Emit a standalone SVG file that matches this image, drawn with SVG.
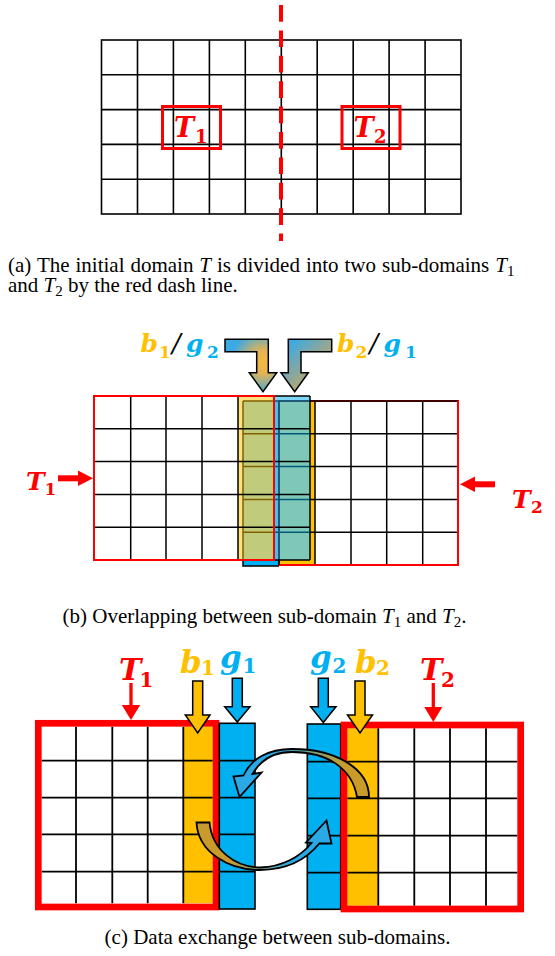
<svg xmlns="http://www.w3.org/2000/svg" width="555" height="956" viewBox="0 0 555 956">
<defs>
<style>
.g1{stroke:#000;stroke-width:1.6;fill:none}
.g2{stroke:#000;stroke-width:1.5;fill:none}
.g3{stroke:#000;stroke-width:1.8;fill:none}
.red{stroke:#FF0000;fill:none}
.lab{font-family:"DejaVu Serif","Liberation Serif",serif;font-weight:bold;font-style:italic}
.s{font-style:normal}
.sl{font-weight:normal;fill:#000}
.cap{font-family:"Liberation Serif","Times New Roman",serif;font-size:21px;fill:#000}
.mi{font-style:italic}
.or{fill:#FFC000}
.bl{fill:#00B0F0}
.rd{fill:#FF0000}
.arr{stroke:#000;stroke-width:1.5;stroke-linejoin:miter}
</style>
<radialGradient id="gL" gradientUnits="userSpaceOnUse" cx="263" cy="362" r="32">
<stop offset="0" stop-color="#F5B940"/>
<stop offset="0.35" stop-color="#E6B352"/>
<stop offset="1" stop-color="#3BA9E3"/>
</radialGradient>
<linearGradient id="gR" gradientUnits="userSpaceOnUse" x1="288" y1="345" x2="318" y2="375">
<stop offset="0" stop-color="#3BA9E3"/>
<stop offset="1" stop-color="#C0A66C"/>
</linearGradient>
<linearGradient id="cTop" gradientUnits="userSpaceOnUse" x1="345" y1="0" x2="278" y2="0">
<stop offset="0" stop-color="#C99B2A"/>
<stop offset="1" stop-color="#2AA9E6"/>
</linearGradient>
<linearGradient id="cBot" gradientUnits="userSpaceOnUse" x1="228" y1="0" x2="292" y2="0">
<stop offset="0" stop-color="#C99B2A"/>
<stop offset="1" stop-color="#2AA9E6"/>
</linearGradient>
</defs>

<!-- ===== (a) ===== -->
<g id="gridA">
<rect x="101.5" y="40" width="359.5" height="174" fill="#fff" class="g1"/>
<path class="g1" d="M137.5,40V214M173.4,40V214M209.4,40V214M245.3,40V214M281.3,40V214M317.2,40V214M353.2,40V214M389.1,40V214M425.1,40V214"/>
<path class="g1" d="M101.5,74.8H461M101.5,109.6H461M101.5,144.4H461M101.5,179.2H461"/>
</g>
<g id="dashA">
<line x1="281" y1="5" x2="281" y2="241" stroke="#FF0000" stroke-width="4" stroke-dasharray="16.7 8.7"/>
</g>
<g id="T1a">
<rect x="162.5" y="106.5" width="58" height="42" fill="#fff" class="red" stroke-width="3"/>
<text class="lab rd" x="174" y="136.5" font-size="27">T<tspan class="s" x="195" y="142.5" font-size="18">1</tspan></text>
</g>
<g id="T2a">
<rect x="342" y="106.5" width="58" height="42" fill="#fff" class="red" stroke-width="3"/>
<text class="lab rd" x="353.5" y="136.5" font-size="27">T<tspan class="s" x="374" y="142.5" font-size="18">2</tspan></text>
</g>
<g id="capA">
<text class="cap" x="8" y="271.5" word-spacing="0.7">(a) The initial domain <tspan class="mi">T</tspan> is divided into two sub-domains <tspan class="mi">T</tspan><tspan font-size="15" dy="4">1</tspan></text>
<text class="cap" x="8" y="291.5">and <tspan class="mi">T</tspan><tspan font-size="15" dy="4">2</tspan><tspan dy="-4"> by the red dash line.</tspan></text>
</g>

<!-- ===== (b) ===== -->
<g id="T2b">
<rect x="243" y="401" width="36" height="165" class="bl"/>
<rect x="279" y="401" width="36" height="164" class="or"/>
<rect x="243" y="401" width="67" height="159" fill="#fff" opacity="0.5"/>
<rect x="279" y="401" width="179" height="164" fill="none" stroke="#FF0000" stroke-width="2"/>
<path class="g2" d="M243,401V566H279M243,401H458"/>
<path class="g2" d="M279,401V565M315,401V565M351,401V565M386.7,401V565M422.7,401V565"/>
<path class="g2" d="M243,433.8H458M243,466.6H458M243,499.4H458M243,532.2H458"/>
<path d="M281,565H458V401" fill="none" stroke="#FF0000" stroke-width="2"/>
</g>
<g id="T1b">
<rect x="238" y="396" width="36" height="164" fill="#FFC000" opacity="0.5"/>
<rect x="274" y="396" width="36" height="164" fill="#00B0F0" opacity="0.5"/>
<path class="g2" d="M130.7,396V560M166,396V560M202,396V560M238,396V560M310,396V560"/>
<path class="g2" d="M94,428.8H310M94,461.6H310M94,494.4H310M94,527.2H310M274,396H310M274,560H310"/>
<rect x="94" y="396" width="180" height="164" fill="none" stroke="#FF0000" stroke-width="2"/>
</g>
<g id="arrowsB">
<polygon points="225,339.3 268.3,339.3 268.3,372.7 276.7,372.7 263,391.7 249.3,372.7 256.7,372.7 256.7,351.7 225,351.7" fill="url(#gL)" class="arr"/>
<polygon points="331.7,339.3 288.3,339.3 288.3,372.7 281,372.7 294.7,391.7 308.3,372.7 301,372.7 301,351.7 331.7,351.7" fill="url(#gR)" class="arr"/>
</g>
<g id="labB1">
<text class="lab or" x="140.5" y="352" font-size="25">b<tspan class="s" x="159" y="358" font-size="17">1</tspan><tspan class="sl" x="172" y="352" font-size="26">/</tspan><tspan class="bl" x="186" y="352">g</tspan><tspan class="s bl" x="207" y="358" font-size="17">2</tspan></text>
</g>
<g id="labB2">
<text class="lab or" x="337" y="352" font-size="25">b<tspan class="s" x="355.5" y="358" font-size="17">2</tspan><tspan class="sl" x="369.5" y="352" font-size="26">/</tspan><tspan class="bl" x="383.5" y="352">g</tspan><tspan class="s bl" x="405" y="358" font-size="17">1</tspan></text>
</g>
<g id="T1labB">
<text class="lab rd" x="26" y="489.5" font-size="25">T<tspan class="s" x="44.5" y="495" font-size="17">1</tspan></text>
<path d="M58,478.3H80" stroke="#FF0000" stroke-width="6"/>
<polygon points="78,470.5 93,478.3 78,486" class="rd"/>
</g>
<g id="T2labB">
<text class="lab rd" x="512" y="507.5" font-size="25">T<tspan class="s" x="531" y="513" font-size="17">2</tspan></text>
<path d="M495,484.3H473" stroke="#FF0000" stroke-width="6"/>
<polygon points="475,476.5 460,484.3 475,492" class="rd"/>
</g>
<g id="capB">
<text class="cap" x="264.5" y="623" text-anchor="middle">(b) Overlapping between sub-domain <tspan class="mi">T</tspan><tspan font-size="15" dy="4">1</tspan><tspan dy="-4"> and </tspan><tspan class="mi">T</tspan><tspan font-size="15" dy="4">2</tspan><tspan dy="-4">.</tspan></text>
</g>

<!-- ===== (c) ===== -->
<g id="T1c">
<rect x="183.3" y="726.7" width="29.4" height="176.6" class="or"/>
<rect x="41.7" y="726.7" width="141.6" height="176.6" fill="#fff"/>
<path class="g3" d="M76,726.7V903.3M112.3,726.7V903.3M147.7,726.7V903.3M183.3,726.7V903.3"/>
<path class="g3" d="M41.7,760.7H212.7M41.7,797.7H212.7M41.7,834.3H212.7M41.7,871.7H212.7"/>
<rect x="38.3" y="723.3" width="177.7" height="183.7" fill="none" stroke="#FF0000" stroke-width="6.7"/>
</g>
<g id="g1c">
<rect x="219.3" y="723.3" width="35.7" height="185.7" class="bl" stroke="#000" stroke-width="1.6"/>
<path class="g3" d="M219.3,760.7H255M219.3,797.7H255M219.3,834.3H255M219.3,871.7H255"/>
</g>
<g id="g2c">
<rect x="307.3" y="724" width="33.4" height="185.3" class="bl" stroke="#000" stroke-width="1.6"/>
<path class="g3" d="M307.3,761.7H340.7M307.3,798.3H340.7M307.3,835.7H340.7M307.3,872.7H340.7"/>
</g>
<g id="T2c">
<rect x="347.3" y="728.3" width="170" height="177.4" fill="#fff"/>
<rect x="347.3" y="728.3" width="31" height="177.4" class="or"/>
<path class="g3" d="M378.3,728.3V905.7M414.3,728.3V905.7M450,728.3V905.7M486,728.3V905.7"/>
<path class="g3" d="M347.3,761.7H517.3M347.3,798.3H517.3M347.3,835.7H517.3M347.3,872.7H517.3"/>
<rect x="344" y="725" width="176.7" height="184" fill="none" stroke="#FF0000" stroke-width="6.7"/>
</g>
<g id="labT1c">
<text class="lab rd" x="119" y="680" font-size="30">T<tspan class="s" x="139.5" y="687" font-size="20">1</tspan></text>
<path d="M131,683V707" stroke="#FF0000" stroke-width="3.3"/>
<polygon points="121.8,705 140.2,705 131,720" class="rd"/>
</g>
<g id="labT2c">
<text class="lab rd" x="420" y="680" font-size="30">T<tspan class="s" x="441" y="687" font-size="20">2</tspan></text>
<path d="M433.3,683V709" stroke="#FF0000" stroke-width="3.3"/>
<polygon points="424.3,707 442.3,707 433.3,722" class="rd"/>
</g>
<g id="labB1c">
<text class="lab or" x="180" y="673" font-size="31">b<tspan class="s" x="201" y="675" font-size="20">1</tspan></text>
<polygon points="192.7,681 202.7,681 202.7,715 210,715 197.7,733 185.3,715 192.7,715" class="or arr"/>
</g>
<g id="labG1c">
<text class="lab bl" x="220" y="668" font-size="31">g<tspan class="s" x="242.5" y="673" font-size="20">1</tspan></text>
<polygon points="232.3,678.3 242.3,678.3 242.3,706.7 250,706.7 237.3,722 224.7,706.7 232.3,706.7" class="bl arr"/>
</g>
<g id="labG2c">
<text class="lab bl" x="310" y="668" font-size="31">g<tspan class="s" x="332.5" y="673" font-size="20">2</tspan></text>
<polygon points="318.3,678.3 328.3,678.3 328.3,706.7 336,706.7 323.3,722.5 310.7,706.7 318.3,706.7" class="bl arr"/>
</g>
<g id="labB2c">
<text class="lab or" x="355" y="673" font-size="31">b<tspan class="s" x="376" y="675" font-size="20">2</tspan></text>
<polygon points="355,681 365,681 365,715 372.5,715 360,733 347.5,715 355,715" class="or arr"/>
</g>
<g id="connectors">
<path d="M369,797 C369,768 335,749 292,749 C268,749 251,759 243.5,775.5 L233.5,776.5 L239.5,797 L261.5,772.5 L252.5,774 C260,761 273,752 292,752 C327,752 352,768 357,797 Z" fill="url(#cTop)" stroke="#000" stroke-width="1.8" stroke-linejoin="miter"/>
<path d="M196.5,822.5 C198,852 228,870 260,870 C286,870 306,860 319.5,843.3 L331.5,843.5 L326.5,820.5 L306,842.5 L311.5,843 C300,857 282,867 260,867.5 C235,867 212,850 209.5,822.5 Z" fill="url(#cBot)" stroke="#000" stroke-width="1.8" stroke-linejoin="miter"/>
</g>
<g id="capC">
<text class="cap" x="277.5" y="944" text-anchor="middle">(c) Data exchange between sub-domains.</text>
</g>
</svg>
